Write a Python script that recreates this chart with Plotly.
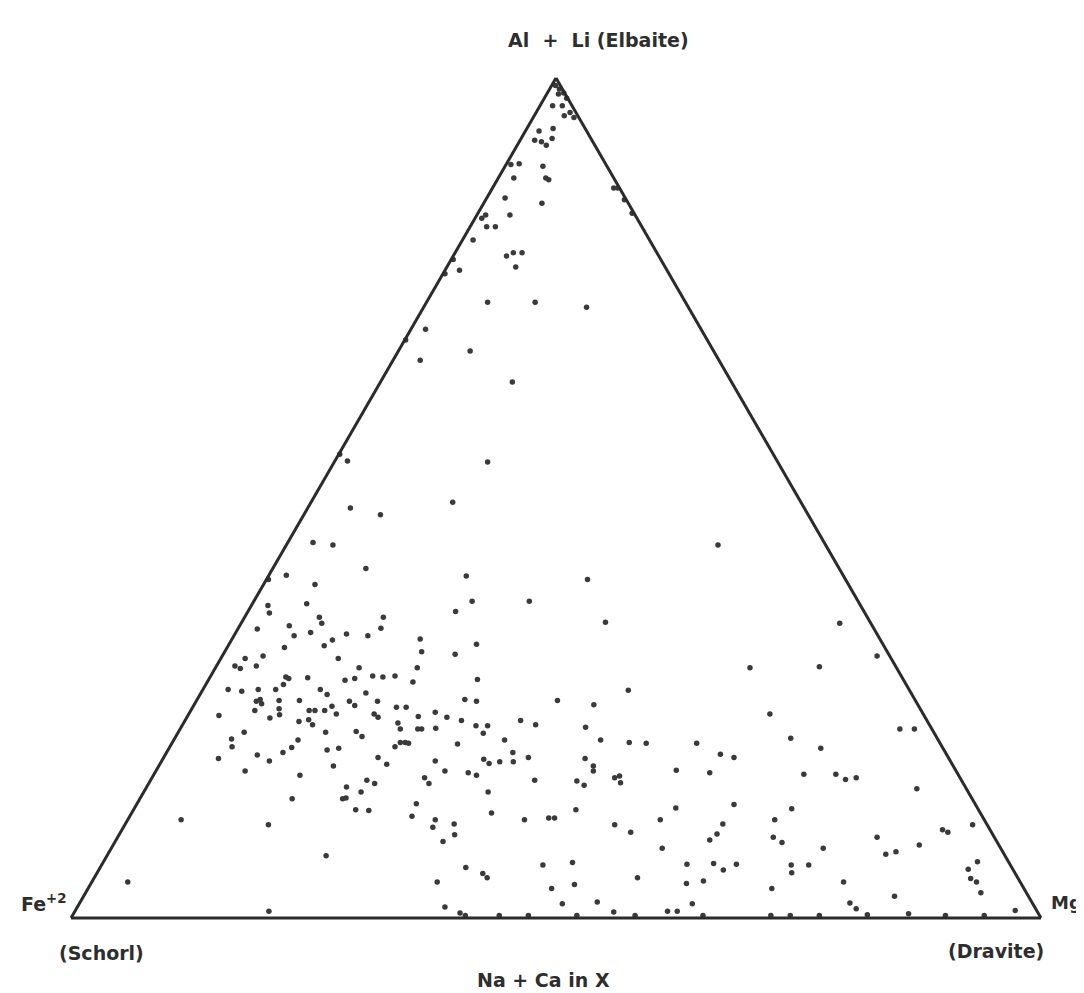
import plotly.graph_objects as go

# Ternary tourmaline compositions (percent): Al+Li (apex), Mg (right); Fe+2 = remainder
al_li = [
    99.1, 98.7, 98.2, 97.6, 98.1, 96.7, 96.7, 95.9, 95.3, 95.5, 93.7, 94.0, 92.6, 92.4, 92.8, 92.0,
    89.7, 89.8, 89.5, 88.1, 88.1, 87.9, 85.1, 85.7, 83.7, 83.7, 83.3, 82.3, 82.3, 80.7, 78.8, 79.2,
    79.2, 77.5, 77.1, 78.4, 73.3, 73.3, 72.7, 70.1, 67.5, 66.4, 63.8, 54.4, 55.2, 54.3, 49.5, 48.8,
    48.0, 86.9, 86.9, 85.5, 83.9, 76.7, 68.8,
    44.7, 44.4, 41.6, 40.7, 40.8, 40.3, 39.7, 37.7, 36.5, 37.4, 37.2, 36.3, 35.8, 35.8, 35.1, 34.5,
    34.4, 34.8, 33.6, 34.0, 33.8, 33.6, 33.2, 33.1, 32.4, 32.2, 32.6, 31.7, 31.4, 31.2, 30.9, 30.9,
    30.0, 29.7, 30.0, 29.8, 29.8, 28.7, 28.5, 28.6, 28.3, 28.5, 28.8, 28.7, 28.8, 28.1, 27.2, 27.0,
    27.2, 27.2, 27.8, 27.2, 26.6, 26.8, 26.0, 25.8, 28.4, 25.8, 25.5, 26.0, 25.9, 25.9, 25.8, 25.8,
    25.3, 25.1, 25.1, 24.1, 24.7, 23.8, 24.9, 24.2, 24.7, 24.7, 24.7, 25.2, 24.3, 24.3, 23.9, 23.4,
    23.6, 23.0, 23.2, 22.5, 24.0, 22.5, 22.5, 24.5, 22.6, 23.9, 23.5, 22.9, 22.1, 22.1, 22.2, 21.6,
    21.3, 20.4, 19.0, 17.5, 19.4, 18.7, 19.7, 20.3, 21.2, 17.0, 20.0, 20.2, 18.1, 19.1, 18.3, 15.6,
    14.2, 14.3, 15.0, 16.4, 16.0, 12.9, 12.8, 14.2, 11.1, 11.7, 7.4, 0.8, 4.3, 20.4, 20.9, 20.9,
    20.8, 22.0, 22.9, 20.7, 18.7, 17.5, 17.3, 17.0, 16.7, 16.0, 13.6, 12.1, 11.7, 10.8, 11.2, 9.9,
    9.1, 6.0, 4.3, 1.3, 0.6,
    44.4, 40.3, 37.7, 35.2, 29.8, 27.1, 25.9, 25.4, 23.5, 23.0, 22.7, 21.2, 21.2, 20.9, 20.8, 20.8,
    19.5, 19.1, 19.7, 18.9, 18.4, 18.6, 18.6, 19.1, 19.0, 18.1, 17.5, 16.7, 16.9, 16.1, 16.4, 16.3,
    15.8, 17.6, 17.3, 15.0, 12.5, 11.7, 11.9, 11.9, 12.9, 11.1, 10.2, 11.7, 13.1, 13.5, 11.2, 10.0,
    9.3, 8.3, 5.3, 4.8, 6.3, 6.6, 4.8, 6.4, 6.5, 5.7, 6.4, 4.1, 4.4, 3.5, 4.0, 1.7,
    1.9, 0.7, 0.8, 0.8, 1.7,
    35.1, 31.2, 29.9, 24.3, 21.4, 20.2, 22.5, 22.5, 17.1, 17.1, 16.5, 16.7, 15.4, 13.0, 11.7, 9.6,
    9.0, 8.3, 9.6, 7.6, 7.9, 8.7, 10.5, 10.2, 11.1, 6.3, 5.4, 6.3, 3.5, 4.3, 2.6, 1.8,
    1.1, 6.7, 5.8, 4.7, 4.3, 3.0, 0.9, 0.5, 0.4,
    0.3, 0.3, 0.3, 0.3, 0.3, 0.3, 0.3, 0.3, 0.3, 0.3, 0.3,
]
mg = [
    0.4, 1.0, 1.7, 2.3, 1.2, 1.3, 2.3, 3.5, 4.2, 3.1, 1.4, 2.7, 1.5, 2.3, 3.2, 3.0,
    0.5, 1.3, 3.9, 1.6, 4.9, 5.3, 6.0, 1.9, 3.4, 0.9, 0.7, 1.7, 2.6, 1.1, 5.5, 6.0,
    6.9, 7.1, 1.5, 0.2, 6.3, 11.2, 16.8, 1.5, 7.4, 2.8, 13.6, 1.3, 0.1, 15.8, 14.6, 4.4,
    7.9, 12.5, 12.9, 14.3, 15.9, 0.2, 0.1,
    2.6, 4.8, 9.6, 20.4, 1.8, 0.2, 5.3, 22.5, 21.4, 5.6, 1.7, 2.3, 7.7, 14.3, 8.3, 14.7,
    2.0, 5.1, 6.2, 7.7, 11.5, 13.8, 19.4, 10.4, 9.9, 5.9, 25.5, 20.3, 23.9, 4.2, 2.5, 12.1,
    1.9, 2.6, 4.1, 14.8, 20.8, 7.8, 8.2, 10.1, 14.1, 15.0, 16.7, 17.8, 19.0, 21.2, 2.6, 4.1,
    5.7, 7.5, 8.0, 12.1, 13.1, 17.0, 27.6, 28.9, 27.7, 6.2, 6.9, 6.5, 8.5, 10.6, 18.7, 15.8,
    16.6, 21.0, 22.0, 3.2, 6.6, 8.6, 9.0, 9.4, 12.2, 12.8, 13.8, 14.3, 15.2, 19.1, 19.7, 11.8,
    12.7, 13.4, 22.1, 22.7, 23.8, 24.5, 24.9, 25.3, 26.3, 26.8, 28.5, 30.3, 6.8, 15.2, 18.3, 19.2,
    5.9, 6.4, 5.7, 9.2, 9.5, 11.1, 12.0, 12.6, 12.8, 15.1, 16.4, 17.5, 18.0, 22.1, 23.4, 20.6,
    20.9, 21.2, 22.4, 22.3, 23.3, 22.9, 24.3, 15.7, 14.8, 5.5, 22.6, 20.0, 3.7, 23.2, 23.5, 24.0,
    24.4, 31.5, 31.5, 29.5, 28.2, 29.8, 32.3, 33.3, 28.1, 28.9, 28.8, 29.1, 31.7, 31.9, 33.9, 34.6,
    33.8, 37.7, 35.6, 37.9, 39.8,
    44.5, 33.1, 28.4, 37.5, 55.1, 43.9, 37.2, 41.2, 34.6, 36.4, 41.7, 34.1, 44.0, 47.1, 48.9, 54.1,
    57.2, 58.8, 35.7, 33.1, 33.9, 34.9, 36.3, 37.6, 43.5, 44.8, 45.1, 47.7, 48.1, 48.6, 39.6, 44.0,
    45.0, 53.6, 57.2, 35.5, 37.1, 40.9, 43.3, 43.9, 45.6, 50.5, 52.6, 54.9, 55.8, 61.6, 61.6, 61.6,
    61.2, 56.8, 39.8, 40.5, 45.5, 48.4, 56.0, 60.3, 63.0, 64.4, 65.4, 61.4, 63.0, 47.8, 49.9, 49.8,
    53.3, 55.6, 61.1, 62.1, 63.2,
    61.7, 67.5, 62.2, 59.9, 63.5, 67.2, 74.2, 75.7, 67.0, 70.3, 71.6, 72.6, 79.5, 67.8, 66.7, 67.6,
    68.8, 73.4, 78.3, 80.2, 81.1, 83.1, 84.6, 85.3, 87.4, 71.1, 71.6, 72.9, 70.5, 77.5, 83.6, 79.4,
    80.4, 90.1, 89.6, 90.4, 91.2, 92.3, 96.9, 86.1, 81.9,
    40.5, 44.0, 47.0, 52.0, 58.0, 65.0, 72.0, 74.0, 77.0, 90.0, 94.0,
]
fe = [round(100 - a - c, 2) for a, c in zip(al_li, mg)]

W, H = 1084, 993
OFF = 8  # page body margin offset
ink = "#2b2b2b"

fig = go.Figure()
fig.add_trace(go.Scatterternary(
    a=al_li, b=fe, c=mg, mode="markers",
    marker=dict(size=5.5, color="#3a3a3a", line=dict(width=0)),
    hoverinfo="skip", showlegend=False, cliponaxis=False,
))

axis_style = dict(showticklabels=False, ticks="", showgrid=False, showline=True,
                  linecolor=ink, linewidth=3, min=0, title=dict(text=""))
left, right, bottom, top = 71 - OFF, 1041 - OFF, 918 - OFF, 78 - OFF
fig.update_layout(
    width=W, height=H,
    margin=dict(l=0, r=0, t=0, b=0),
    paper_bgcolor="white",
    plot_bgcolor="white",
    showlegend=False,
    ternary=dict(
        sum=100,
        bgcolor="white",
        domain=dict(x=[left / W, right / W], y=[(H - bottom) / H, (H - top) / H]),
        aaxis=axis_style, baxis=axis_style, caxis=axis_style,
    ),
    font=dict(family="DejaVu Sans, sans-serif", color="#2e2e2e"),
)

def label(text, px, py, size=19, xanchor="center"):
    fig.add_annotation(text="<b>" + text + "</b>", x=(px - OFF) / W, y=1 - (py - OFF) / H,
                       xref="paper", yref="paper", showarrow=False,
                       xanchor=xanchor, yanchor="middle",
                       font=dict(size=size, color="#2e2e2e", family="DejaVu Sans, sans-serif"))

label("Al  +  Li (Elbaite)", 598, 40, 19)
label("Fe<sup>+2</sup>", 44, 903, 19)
label("(Schorl)", 101, 953, 19)
label("Mg", 1049, 902, 18, xanchor="left")
label("(Dravite)", 996, 951, 19)
label("Na + Ca in X", 543, 980, 19)

fig.write_html("out.html")
